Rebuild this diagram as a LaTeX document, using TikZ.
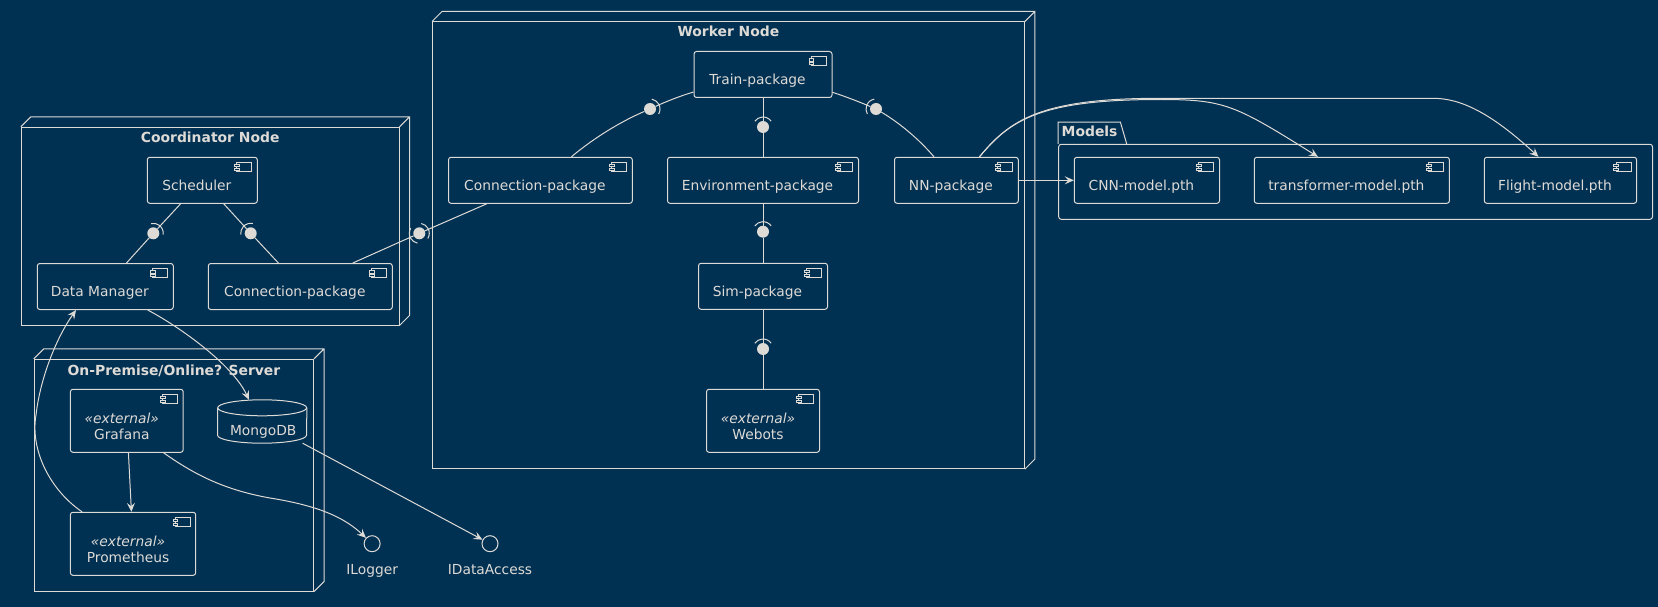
\documentclass[tikz,border=0pt]{standalone}
\usepackage{fontspec}
\setmainfont{DejaVu Sans}
\usetikzlibrary{positioning, arrows.meta}
\definecolor{bgblue}{RGB}{0,49,83}
\definecolor{fgline}{RGB}{222,218,214}
\tikzset{line/.style={draw=fgline, line width=1pt},
         arr/.style={line, -{Stealth[length=9pt, width=8pt, inset=3.5pt]}},
         devnode/.style={line, inner sep=0pt},
         ttl/.style={text=fgline, inner sep=0pt, font=\fontsize{13.9}{16}\selectfont\bfseries},
         ctext/.style={text=fgline, inner sep=0pt, text height=10pt, text depth=3pt, font=\fontsize{13.8}{16}\selectfont},
         clabel/.style={ctext, xshift=-5.5pt, yshift=-6.2pt},
         stereo/.style={ctext, xshift=-5pt, yshift=1pt, font=\fontsize{13.8}{16}\selectfont\itshape},
         sname/.style={ctext, xshift=-5pt, yshift=-14.7pt},
         ilabel/.style={ctext, yshift=-11.6pt},
         comp/.style={line, rounded corners=2.5pt, inner sep=0pt, minimum height=46pt,
             path picture={
               \draw[line, sharp corners] ([xshift=-20.6pt, yshift=-5pt]path picture bounding box.north east) rectangle ++(15pt,-9.4pt);
               \draw[line, sharp corners, line width=0.8pt, fill=bgblue] ([xshift=-22.8pt, yshift=-7.3pt]path picture bounding box.north east) rectangle ++(4.6pt,-2.2pt);
               \draw[line, sharp corners, line width=0.8pt, fill=bgblue] ([xshift=-22.8pt, yshift=-10.8pt]path picture bounding box.north east) rectangle ++(4.6pt,-2.2pt);}},
         ball/.style={circle, fill=fgline, inner sep=0pt, minimum size=12pt},
         iface/.style={circle, line, fill=bgblue, inner sep=0pt, minimum size=16pt},
        }
% back edges of a 3d node box
\newcommand{\nodeback}[1]{\draw[line] (#1.north west) -- ++(10pt,10pt) -| ([shift={(10pt,10pt)}]#1.south east) -- (#1.south east) (#1.north east) -- ++(10pt,10pt);}
% socket arc round a ball, #2 = direction it faces
\newcommand{\socket}[2]{\pgfmathsetmacro{\sockang}{#2-55}\draw[line] ([shift={(\sockang:10pt)}]#1.center) arc[start angle=\sockang, delta angle=110, radius=10pt];}

\begin{document}
\begin{tikzpicture}[x=1pt, y=-1pt]
        \fill[bgblue] (0,0) rectangle (1658,607);
        \useasboundingbox (0,0) rectangle (1658,607);

        % coordinator
        \node[devnode, minimum width=377.7pt, minimum height=197.7pt](coord)at(210.15,226.15){};
        \nodeback{coord}
        \node[ttl, anchor=base](coordttl)at([yshift=-16pt]coord.north){Coordinator Node};
        \node[comp, minimum width=110pt, label={[clabel]center:Scheduler}](sched)at(202.3,180.3){};
        \node[comp, minimum width=136pt, label={[clabel]center:Data Manager}](dm)at(105.3,286.5){};
        \node[comp, minimum width=184pt, label={[clabel]center:Connection-package}](cconn)at(300.3,286.5){};

        % worker
        \node[devnode, minimum width=591.8pt, minimum height=446.7pt](worker)at(728.4,245.35){};
        \nodeback{worker}
        \node[ttl, anchor=base](workerttl)at([yshift=-15.3pt]worker.north){Worker Node};
        \node[comp, minimum width=138pt, label={[clabel]center:Train-package}](train)at(763,74.5){};
        \node[comp, minimum width=183.8pt, label={[clabel]center:Connection-package}](wconn)at(540.4,180.3){};
        \node[comp, minimum width=191pt, label={[clabel]center:Environment-package}](env)at(763,180.3){};
        \node[comp, minimum width=123.8pt, label={[clabel]center:NN-package}](nn)at(956.4,180.3){};
        \node[comp, minimum width=129pt, label={[clabel]center:Sim-package}](sim)at(763,286.3){};
        \node[comp, minimum width=113pt, minimum height=63pt, label={[stereo]center:«external»}, label={[sname]center:Webots}](webots)at(763,420.8){};

        % server
        \node[devnode, minimum width=279.3pt, minimum height=231.7pt](server)at(173.95,475.15){};
        \nodeback{server}
        \node[ttl, anchor=base](serverttl)at([yshift=-16.7pt]server.north){On-Premise/Online? Server};
        \node[comp, minimum width=112.8pt, minimum height=63pt, label={[stereo]center:«external»}, label={[sname]center:Grafana}](graf)at(126.8,420.8){};
        \node[comp, minimum width=125.3pt, minimum height=63pt, label={[stereo]center:«external»}, label={[sname]center:Prometheus}](prom)at(133.05,543.8){};
        \node[inner sep=0pt, minimum width=89pt, minimum height=43pt, label={[ctext, xshift=1pt, yshift=-10.7pt]center:MongoDB}](mongo)at(262.2,421.5){};
        \draw[line]([yshift=-8pt]mongo.north) ellipse[x radius=44.5pt, y radius=8pt];
        \draw[line]([yshift=-8pt]mongo.north west) -- ([yshift=8pt]mongo.south west) arc[start angle=180, end angle=360, x radius=44.5pt, y radius=8pt] -- ([yshift=-8pt]mongo.north east);
        \node[iface, label={[ilabel]below:ILogger}](ilog)at(372.1,543.7){};
        \node[iface, label={[ilabel]below:IDataAccess}](idata)at(490,543.7){};

        % models
        \node[line, rounded corners=2.5pt, inner sep=0pt, minimum width=593.8pt, minimum height=75pt](models)at(1355.6,181.8){};
        \draw[line](models.north west) -- ++(0pt,21.6pt) -- ++(62.2pt,0pt) -- ([xshift=68.5pt]models.north west);
        \node[ttl, anchor=base west](modelsttl)at([xshift=3.3pt, yshift=7pt]models.north west){Models};
        \node[comp, minimum width=145.2pt, label={[clabel]center:CNN-model.pth}](cnn)at(1146.9,180.3){};
        \node[comp, minimum width=195.1pt, label={[clabel]center:transformer-model.pth}](trans)at(1351.85,180.3){};
        \node[comp, minimum width=152.3pt, label={[clabel]center:Flight-model.pth}](flight)at(1560.45,180.3){};

        % balls
        \node[ball](b1)at(153.3,233.3){};
        \node[ball](b2)at(250.7,233.3){};
        \node[ball](b3)at(419.3,233.3){};
        \node[ball](b4)at(650,109){};
        \node[ball](b5)at(763,127){};
        \node[ball](b6)at(876,109){};
        \node[ball](b7)at(763,231.7){};
        \node[ball](b8)at(763,349){};
        \socket{b1}{47.6}
        \socket{b2}{133}
        \socket{b3}{23.6}
        \socket{b3}{204.4}
        \socket{b4}{25}
        \socket{b5}{90}
        \socket{b6}{155}
        \socket{b7}{90}
        \socket{b8}{90}

        \draw[line](sched) -- (b1) -- (dm);
        \draw[line](sched) -- (b2) -- (cconn);
        \draw[line](cconn) -- (b3) -- (wconn);
        \draw[line]([yshift=-17.5pt]train.west) .. controls (680,96) and (665,102) .. (b4);
        \draw[line](b4) .. controls (622,121) and (595,137) .. ([xshift=31pt]wconn.north);
        \draw[line](train) -- (b5) -- (env);
        \draw[line]([yshift=-17.8pt]train.east) .. controls (847,97) and (862,103) .. (b6);
        \draw[line](b6) .. controls (898,122) and (918,138) .. ([xshift=-22.4pt]nn.north);
        \draw[line](env) -- (b7) -- (sim);
        \draw[line](sim) -- (b8) -- (webots);

        \draw[arr](nn) -- (cnn);
        \draw[arr]([xshift=23.1pt]nn.north) .. controls (1010,120) and (1040,99.5) .. (1160,99.5) .. controls (1225,99.5) and (1235,105) .. ([xshift=-33.9pt]trans.north);
        \draw[arr]([xshift=23.1pt]nn.north) .. controls (1010,120) and (1040,98.3) .. (1160,98.3) -- (1433,98.3) .. controls (1460,98.3) and (1490,112) .. ([xshift=-22pt]flight.north);

        \draw[arr]([xshift=42.4pt]dm.south) .. controls (180,327) and (233,365) .. ([xshift=-13.2pt]mongo.north);
        \draw[arr]([xshift=-51pt]prom.north) .. controls (50,490) and (30,450) .. (36,415) .. controls (40,380) and (55,340) .. ([xshift=-29.3pt]dm.south);
        \draw[arr](graf) -- (prom);
        \draw[arr]([xshift=36.8pt]graf.south) .. controls (195,475) and (225,490) .. (270,498) .. controls (320,506) and (345,518) .. (ilog);
        \draw[arr](mongo) -- (idata);
    \end{tikzpicture}
\end{document}
